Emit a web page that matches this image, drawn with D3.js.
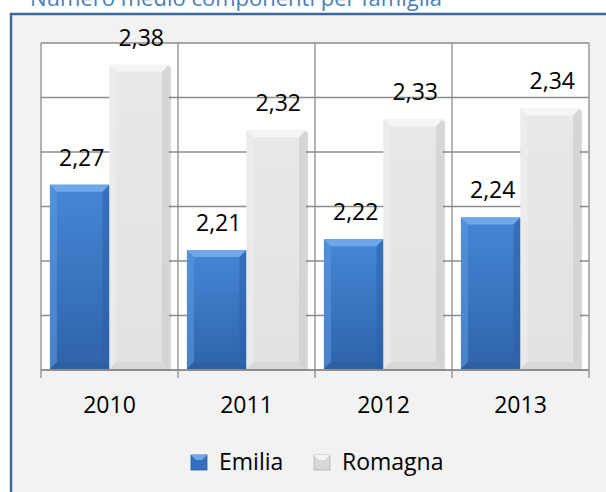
<!DOCTYPE html>
<html lang="it">
<head>
<meta charset="UTF-8">
<title>Numero medio componenti per famiglia</title>
<script src="https://cdn.jsdelivr.net/npm/d3@7"></script>
<style>
  body { margin: 0; background: #fff; }
  text { font-family: "Open Sans", sans-serif; }
</style>
</head>
<body>
<script>
// data
const years = ["2010", "2011", "2012", "2013"];
const series = ["Emilia", "Romagna"];
const emilia = [2.27, 2.21, 2.22, 2.24];
const romagna = [2.38, 2.32, 2.33, 2.34];
const title = "Numero medio componenti per famiglia";

const width = 606, height = 492;
const plot = { left: 41, right: 589, top: 43, bottom: 370 };

const svg = d3.select("body").append("svg")
    .attr("width", width)
    .attr("height", height);

// gradients for the bevelled bars
const defs = svg.append("defs");
function grad(id, stops) {
    const g = defs.append("linearGradient").attr("id", id)
        .attr("x1", 0).attr("y1", 0).attr("x2", 0).attr("y2", 1);
    stops.forEach(s => g.append("stop").attr("offset", s[0]).attr("stop-color", s[1]));
}
grad("blueBody", [[0, "#4587d6"], [1, "#2f63ab"]]);
grad("greyBody", [[0, "#e8e8e8"], [1, "#e2e2e2"]]);

const colors = {
    Emilia:  { body: "url(#blueBody)", top: "#6fa8ea", left: "#5a97dd", right: "#2d60a6", bottom: "#2b5c9e" },
    Romagna: { body: "url(#greyBody)", top: "#f5f5f5", left: "#eeeeee", right: "#c9c9c9", bottom: "#d2d2d2" }
};

// frame + title
svg.append("rect")
    .attr("x", 11).attr("y", 14)
    .attr("width", width - 11).attr("height", height - 14)
    .attr("fill", "#f2f2f2");
svg.append("path")
    .attr("d", `M11,${height} L11,14 L${width},14`)
    .attr("fill", "none")
    .attr("stroke", "#3e679e")
    .attr("stroke-width", 2.5);
svg.append("text")
    .attr("x", 30).attr("y", 6)
    .attr("fill", "#4a7ebb")
    .attr("font-size", 22)
    .text(title);

// scales
const x = d3.scaleBand().domain(years).range([plot.left, plot.right]);
const xs = d3.scaleBand().domain(series).range([0, x.bandwidth()]).paddingOuter(0.15);
const y = d3.scaleLinear().domain([2.1, 2.4]).range([plot.bottom, plot.top]);

// plot area
svg.append("rect")
    .attr("x", plot.left).attr("y", plot.top)
    .attr("width", plot.right - plot.left).attr("height", plot.bottom - plot.top)
    .attr("fill", "#fff");

const grid = svg.append("g").attr("stroke", "#8c8c8c").attr("stroke-width", 1.3);
grid.selectAll("line.h")
    .data(y.ticks(6))
    .join("line")
    .attr("class", "h")
    .attr("x1", plot.left).attr("x2", plot.right)
    .attr("y1", d => y(d)).attr("y2", d => y(d));
const bounds = years.map(d => x(d)).concat([plot.right]);
grid.selectAll("line.v")
    .data(bounds)
    .join("line")
    .attr("class", "v")
    .attr("x1", d => d).attr("x2", d => d)
    .attr("y1", plot.top).attr("y2", plot.bottom + 8);

// bars
const rows = years.map((yr, i) => ({ year: yr, values: [
    { key: "Emilia", value: emilia[i] },
    { key: "Romagna", value: romagna[i] }
]}));

const b = 7;
function drawBar(g, x0, y0, w, h, c) {
    const x1 = x0 + w, y1 = y0 + h;
    g.append("rect").attr("x", x0 + 2).attr("y", y0 + 2).attr("width", w).attr("height", h)
        .attr("fill", "#000").attr("opacity", 0.15);
    g.append("rect").attr("x", x0).attr("y", y0).attr("width", w).attr("height", h).attr("fill", c.body);
    g.append("polygon").attr("points", `${x0},${y0} ${x1},${y0} ${x1 - b},${y0 + b} ${x0 + b},${y0 + b}`).attr("fill", c.top);
    g.append("polygon").attr("points", `${x0},${y0} ${x0 + b},${y0 + b} ${x0 + b},${y1 - b} ${x0},${y1}`).attr("fill", c.left).attr("opacity", 0.6);
    g.append("polygon").attr("points", `${x1},${y0} ${x1},${y1} ${x1 - b},${y1 - b} ${x1 - b},${y0 + b}`).attr("fill", c.right).attr("opacity", 0.6);
    g.append("polygon").attr("points", `${x0},${y1} ${x0 + b},${y1 - b} ${x1 - b},${y1 - b} ${x1},${y1}`).attr("fill", c.bottom).attr("opacity", 0.6);
}

const groups = svg.append("g").selectAll("g")
    .data(rows)
    .join("g")
    .attr("transform", d => `translate(${x(d.year)},0)`);

groups.each(function (d) {
    const g = d3.select(this);
    d.values.forEach(v => {
        drawBar(g.append("g"), xs(v.key), y(v.value), xs.bandwidth(), plot.bottom - 1 - y(v.value), colors[v.key]);
        g.append("text")
            .attr("x", xs(v.key) + xs.bandwidth() / 2 + 2)
            .attr("y", y(v.value) - 19)
            .attr("text-anchor", "middle")
            .attr("font-size", 23)
            .attr("fill", "#000")
            .text(d3.format(".2f")(v.value).replace(".", ","));
    });
});

// x axis
svg.append("line")
    .attr("x1", plot.left).attr("x2", plot.right)
    .attr("y1", plot.bottom).attr("y2", plot.bottom)
    .attr("stroke", "#8c8c8c").attr("stroke-width", 1.5);
svg.append("g").selectAll("text")
    .data(years)
    .join("text")
    .attr("x", d => x(d) + x.bandwidth() / 2)
    .attr("y", 413)
    .attr("text-anchor", "middle")
    .attr("font-size", 23)
    .text(d => d);

// legend
const legend = svg.append("g");
const legendItems = [
    { key: "Emilia", x: 191 },
    { key: "Romagna", x: 314 }
];
legendItems.forEach(it => {
    const c = colors[it.key];
    legend.append("rect").attr("x", it.x).attr("y", 455).attr("width", 16).attr("height", 15)
        .attr("fill", it.key === "Emilia" ? "#3570bf" : "#d8d8d8")
        .attr("stroke", it.key === "Emilia" ? "#2a5a9c" : "#b5b5b5").attr("stroke-width", 0.8);
    legend.append("polygon")
        .attr("points", `${it.x},455 ${it.x + 16},455 ${it.x + 11},460 ${it.x + 5},460`)
        .attr("fill", c.top);
    legend.append("text")
        .attr("x", it.x + 28).attr("y", 470)
        .attr("font-size", 23)
        .text(it.key);
});
</script>
</body>
</html>
